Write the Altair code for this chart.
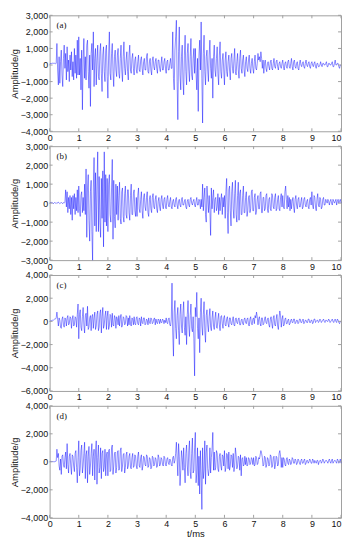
import altair as alt
import pandas as pd

# time axis (ms), sampled every 0.025 ms
t = [round(i * 0.025, 3) for i in range(401)]

# ---- panel (a) amplitudes (g), one row per ms ----
amp_a = [
    50, 80, 100, 90, 110, 100, 120, 100, 80, 100, 1300, -300, -1200, 500, -1100, 200, 900, -600, -1300, 400,
    1200, -200, 700, -900, 1100, -400, 300, -1000, 600, -300, 800, -700, 200, -900, 1000, -500, 600, -800, 1500, -600,
    1700, -600, 400, -1500, 900, -2700, 300, 1600, -800, 500, -900, 1200, 1500, -400, -1400, 600, -2500, 700, 1300, -300,
    2000, -1300, 400, 1000, -1200, 300, 1200, -700, -900, 800, 1300, -500, -1600, 600, 1100, -400, -1000, 900, 1200, -700,
    -2000, 600, 2000, -500, -900, 700, 1300, -400, -1300, 500, 900, -300, -700, 600, 1000, -500, -800, 400, 1200, -300,
    -1000, 500, 1400, -200, -600, 300, 800, -400, -900, 600, 1200, -300, -500, 400, 700, -200, -600, 300, 500, -300,
    -500, 200, 600, -300, -400, 300, 500, -200, -600, 200, 400, -300, -300, 500, 700, -400, -500, 200, 400, -300,
    -600, 300, 500, -100, -300, 200, 400, -200, -500, 300, 300, -200, -400, 100, 500, -300, -300, 200, 400, -200,
    -500, 200, 300, -300, -300, 100, 400, -200, -200, 2000, -800, -1500, 900, 1700, 2700, -1000, -3300, 800, 2300, -600,
    -1500, 500, 1200, -900, -1800, 600, 1800, -400, -1200, 700, 1300, -300, -1000, 500, 1600, -600, -900, 400, 1000, -500,
    1000, -500, -1500, 400, -2800, 600, 1500, -300, 2600, -800, -3500, 700, 1800, -400, -1200, 500, 900, -300, -1000, 600,
    1500, -200, -800, 400, -2000, 500, 1200, -300, -700, 400, 1100, -500, -1200, 600, 1400, -400, -800, 300, 700, -300,
    -1200, 300, 800, -400, -700, 200, 600, -300, -900, 400, 700, -200, -500, 300, 1000, -400, -600, 200, 700, -300,
    -800, 400, 900, -200, -500, 300, 600, -300, -700, 200, 500, -200, -400, 300, 600, -200, -500, 100, 400, -200,
    -500, 200, 600, -200, -300, 100, 700, 300, 500, 200, 800, 400, -200, 300, -500, 100, 300, -200, -400, 100,
    200, -100, -300, 200, 300, -200, -300, 100, 400, -100, -200, 200, 300, -100, -300, 100, 200, -100, -200, 100,
    300, -100, -300, 100, 200, -100, -200, 200, 300, -100, -200, 100, 400, -100, -300, 200, 300, -100, -200, 100,
    200, -200, -300, 100, 300, 0, -100, 100, 200, -100, -200, 100, 300, 0, -100, 100, 200, -100, -200, 100,
    200, 0, -100, 100, 200, -100, -200, 100, 100, -100, -100, 0, 200, 0, -100, 100, 100, 0, 0, 100,
    200, -100, -100, 100, 100, 0, 0, 100, 200, -100, -100, 100, 300, 0, 0, 100, 100, -100, -200, 0,
    0,
]

# ---- panel (b) ----
amp_b = [
    0, 30, 0, 50, 20, -30, 0, 40, 0, -20, 30, 0, 50, 20, -30, 0, 40, 0, -20, 30,
    0, 50, 700, -200, 600, -500, 300, -300, 400, -600, 300, -900, 400, -300, 500, -600, 300, -400, 700, -500,
    900, -300, -700, 400, 600, -500, 300, -400, 1000, -600, 1800, -1800, 800, 1500, -900, -2000, 600, 1200, -1500, -3000,
    800, 2400, -1200, 1600, -1500, 900, 2700, -1500, 1400, -1000, -1800, 1300, -800, 1700, -2300, 2700, -1000, 1500, -1200, 1300,
    -1500, 1000, 1500, -600, -1000, 800, 2300, -1900, 1200, -700, -1300, 1000, -600, 900, -900, 400, 1100, -800, -1100, 600,
    800, -700, -1000, 500, 900, -600, -800, 700, 700, -500, -900, 400, 1000, -600, -600, 500, 700, -400, -700, 300,
    -700, 400, 800, -300, -500, 200, 600, -400, -800, 300, 500, -200, -400, 300, 600, -500, -700, 200, 400, -300,
    -500, 300, 500, -200, -300, 200, 400, -300, -500, 100, 300, -200, -400, 200, 400, -100, -300, 200, 300, -200,
    -300, 200, 400, -100, -200, 100, 300, -200, -300, 100, 200, -100, -200, 200, 300, -100, -300, 100, 200, -100,
    -200, 200, 300, -100, -100, 100, 200, -200, -300, 100, 200, -100, -200, 200, 300, 0, -100, 100, 200, -100,
    -200, 100, 300, -100, -100, 200, 100, -300, 200, -200, 1000, -400, 300, 800, -600, -1000, 900, 200, -500, 400,
    -400, -1700, 800, -300, 300, 700, -500, 200, 300, -400, -200, 500, -600, 300, -400, 200, 500, -600, 300, -200,
    400, -800, 600, 1300, -500, -1600, 700, 900, -400, -1200, 600, 1100, -300, -800, 500, 1200, -600, -1000, 400, 1100,
    -900, 500, 700, -600, -600, 400, 900, -500, -500, 300, 600, -700, -400, 300, 400, -500, -300, 600, 700, -400,
    -400, 300, 500, -600, -400, 200, 400, -300, -300, 500, 600, -500, -500, 300, 300, -400, -300, 400, 500, -300,
    -500, 200, 300, -300, -400, 500, 400, -200, -300, 300, 500, -400, -300, 200, 400, -300, -400, 300, 500, -200,
    400, -200, -300, 600, 900, 200, -300, 400, -200, 300, -400, 200, -300, 100, 300, -200, -500, 200, 400, -100,
    -300, 200, 300, -200, -200, 100, 300, -300, -200, 200, 300, -100, -200, 100, 200, -200, -300, 200, 300, -100,
    600, -100, -300, 400, 300, -200, -400, 200, 500, -100, -200, 300, 200, -300, -200, 200, 300, -100, -100, 200,
    100, 0, 200, 100, -100, 100, 200, 0, -100, 200, 100, 0, 100, 200, -100, 100, 200, 0, 100, 200,
    0,
]

# ---- panel (c) ----
amp_c = [
    0, 20, 50, 80, 100, 100, 150, 200, 200, 300, 800, 200, -400, 300, 100, -500, -600, 200, 400, -300,
    -500, 300, 200, -400, 300, 500, -300, -200, 400, 300, -600, 200, 500, -400, -300, 400, 300, -500, 600, 1500,
    -1500, 600, 1000, -500, -800, 400, 1200, -300, -1000, 500, 700, -400, 1300, -700, -500, 300, 500, -800, 400, 600,
    -600, 300, 800, -700, -400, 600, 900, -800, -500, 700, 1000, -1000, 400, 1200, -600, -300, 500, 900, -700, 400,
    900, -700, -400, 600, 500, -500, 700, -300, -400, 500, 300, -600, 400, 200, -300, 500, -400, 300, 600, -500,
    -300, 400, 300, -300, -200, 500, 400, -400, 300, -300, 500, -200, -400, 300, 200, -300, 400, -200, -300, 300,
    400, -200, -300, 300, 200, -400, 400, -100, -200, 300, 300, -300, -200, 200, 100, -300, 300, -100, -200, 300,
    200, -200, -100, 200, 300, -300, 200, -100, -200, 200, 100, -200, 200, -100, -100, 200, 100, -200, 100, -100,
    300, -100, -200, 200, 300, -300, -400, 200, 3300, -1000, -3000, 800, 1800, -600, -1500, 500, 1200, -800, -2000, 600,
    1500, -400, -1000, 700, 1700, -500, -1200, 400, -2000, 600, 1800, -300, -1300, 500, 1500, -600, -900, 400, -1500, -4700,
    1200, 400, 2500, -600, -1500, 300, -2700, 800, 2000, -400, -1200, 600, 1700, -800, -1800, 500, 1000, -300, -900, 400,
    1100, -500, -800, 300, 900, -400, -700, 300, 800, -500, -600, 200, 700, -300, -800, 400, 500, -200, -600, 300,
    500, -300, -400, 200, 400, -200, -500, 300, 300, -200, -300, 100, 400, -300, -400, 200, 300, -100, -200, 200,
    300, -300, -300, 100, 200, -200, -300, 200, 300, -100, -200, 200, 300, -300, -400, 200, 400, -200, -300, 200,
    300, -200, 500, 300, 800, 400, -300, 200, 400, -200, -400, 300, 300, -300, -200, 200, 400, -100, -200, 200,
    300, -300, -500, 200, 400, -200, -600, 300, 500, -300, -400, 200, 600, -400, -700, 300, 900, 500, -500, 200,
    500, -400, -300, 200, 300, -200, -200, 100, 200, -300, -200, 100, 200, -100, -100, 200, 200, -200, -100, 100,
    100, -200, -100, 200, 200, -100, -100, 100, 200, -200, -100, 100, 100, -100, -100, 200, 200, -100, -100, 100,
    100, -200, -100, 200, 200, -100, 0, 100, 100, -100, 0, 200, 100, -100, 0, 100, 200, 0, -100, 100,
    100, 0, 0, 200, 100, -100, 0, 100, 200, 0, -100, 100, 200, 0, -100, 200, 100, -100, -200, 0,
    0,
]

# ---- panel (d) ----
amp_d = [
    0, 30, 0, 40, 20, 0, 40, 0, 30, 50, 900, 300, 600, -300, -600, 200, -900, 400, 500, -200,
    -400, 300, 700, -500, 1300, -200, -800, 400, 600, -300, -900, 500, 400, -300, -700, 600, 800, -400, -1500, 300,
    1500, -1000, -500, 800, 1200, -800, -300, 600, 1400, -1200, 500, 800, -1500, 400, 1100, -900, -300, 600, 1300, -1000,
    400, 900, -1300, 700, 1500, -1600, 300, 1200, -800, -400, 1000, -1200, 600, 800, -700, -400, 900, -1000, 500, 700,
    -1000, 800, 900, -700, -600, 1000, 1200, -900, -300, 600, 700, -800, -400, 700, 800, -600, -500, 800, 1000, -700,
    -300, 500, 600, -800, -400, 500, 700, -500, -300, 400, 600, -400, -500, 300, 600, -400, -300, 500, 400, -300,
    -500, 400, 700, -300, -400, 300, 500, -600, -300, 400, 300, -200, -300, 500, 400, -400, -300, 300, 200, -500,
    -400, 400, 300, -300, -200, 300, 200, -400, -300, 500, 300, -300, -200, 300, 200, -200, -300, 400, 300, -200,
    -300, 200, 300, -100, -200, 200, 100, -200, -300, 300, 400, -100, 100, 600, 1400, 200, -1000, 1300, 400, -1700,
    -600, 800, 300, -600, 1000, -400, -1500, 600, 1200, -300, -1000, 800, 1500, -700, -1200, 600, 1700, -800, -600, 1000,
    2100, -1500, -800, 1000, -1700, 400, -2300, 800, -1000, -3400, 1000, -1200, -600, 1500, -1600, 700, 1200, -500, -1000, -500,
    1000, -800, 300, 900, 2100, -600, 700, -600, -400, 800, 600, -500, -700, 400, 600, -300, -600, 500, 400, -300,
    800, -700, -400, 600, 500, -500, 700, -600, -300, 500, 400, -400, 600, -700, -300, 1000, 500, -500, -300, 400,
    300, -600, 500, -1000, 200, 300, -300, -200, 400, -200, 300, -300, -200, 300, 200, -200, -100, 300, 200, -200,
    300, -300, -200, 400, 300, -200, -100, 300, 200, 500, 800, 600, 300, -300, -200, 400, 300, -400, -200, 300,
    200, -300, -200, 500, 400, -400, -300, 300, 400, -500, -200, 400, 300, -300, -200, 600, 800, 400, -400, 300,
    -400, 300, 200, -200, -300, 200, 300, -100, -200, 200, 100, -200, -100, 300, 200, -100, -100, 200, 100, -200,
    -100, 200, 100, -100, -200, 100, 200, -100, -100, 100, 200, -200, -100, 100, 100, -100, 0, 200, 100, -100,
    -100, 200, 100, -100, 100, 0, -100, 100, 100, -200, 0, 100, 100, -100, 0, 200, 100, -100, 0, 100,
    100, 0, -100, 100, 200, 0, -100, 100, 200, -100, 0, 100, 100, 0, -100, 200, 100, -100, 0, 200,
    -100,
]

panel_labels = ["(a)", "(b)", "(c)", "(d)"]
y_domains = [[-4000, 3000], [-3000, 3000], [-6000, 4000], [-4000, 4000]]
y_ticks = [
    [-4000, -3000, -2000, -1000, 0, 1000, 2000, 3000],
    [-3000, -2000, -1000, 0, 1000, 2000, 3000],
    [-6000, -4000, -2000, 0, 2000, 4000],
    [-4000, -2000, 0, 2000, 4000],
]
x_ticks = [0, 1, 2, 3, 4, 5, 6, 7, 8, 9, 10]
panel_heights = [117, 115, 117, 113]
W = 294
GRAY = "#a0a0a0"
LAST_ALIGN = {"condition": {"test": "datum.value == 10", "value": "right"}, "value": "center"}


def panel(amps, label, ydom, yt, h, last):
    df = pd.DataFrame({"t": t, "amp": amps})
    if last:
        xaxis = alt.Axis(values=x_ticks, labelFlush=False, labelAlign=LAST_ALIGN, title="t/ms")
    else:
        xaxis = alt.Axis(values=x_ticks, labelFlush=False, labelAlign=LAST_ALIGN, title=None)
    X = alt.X("t:Q", scale=alt.Scale(domain=[0, 10], nice=False, zero=False), axis=xaxis)
    Y = alt.Y("amp:Q", scale=alt.Scale(domain=ydom, nice=False),
              axis=alt.Axis(values=yt, format=",.0f", title="Amplitude/g", labelFlush=False))
    line = alt.Chart(df).mark_line(color="#0000ff", strokeWidth=0.5, opacity=0.9).encode(x=X, y=Y)

    xt = pd.DataFrame({"t": x_ticks})
    yt_df = pd.DataFrame({"amp": yt})
    tb = alt.Chart(xt).mark_rule(color=GRAY, strokeWidth=1).encode(x=X, y=alt.value(h), y2=alt.value(h - 3))
    tt = alt.Chart(xt).mark_rule(color=GRAY, strokeWidth=1).encode(x=X, y=alt.value(0), y2=alt.value(3))
    tl = alt.Chart(yt_df).mark_rule(color=GRAY, strokeWidth=1).encode(y=Y, x=alt.value(0), x2=alt.value(3))
    tr = alt.Chart(yt_df).mark_rule(color=GRAY, strokeWidth=1).encode(y=Y, x=alt.value(W), x2=alt.value(W - 3))
    txt = alt.Chart(pd.DataFrame({"lab": [label]})).mark_text(
        font="Liberation Serif", fontSize=9, align="left", baseline="middle", color="#111"
    ).encode(x=alt.value(7), y=alt.value(10), text="lab:N")
    return alt.layer(line, tb, tt, tl, tr, txt).properties(width=W, height=h)


amps_all = [amp_a, amp_b, amp_c, amp_d]
panels = [
    panel(amps_all[i], panel_labels[i], y_domains[i], y_ticks[i], panel_heights[i], i == 3)
    for i in range(4)
]

chart = alt.vconcat(*panels, spacing=15, bounds="flush").properties(
    padding={"left": 0, "top": 0, "right": 0, "bottom": 0},
    autosize=alt.AutoSizeParams(type="pad"),
).configure_view(
    stroke=GRAY, strokeWidth=1
).configure_axis(
    ticks=False, domain=False, grid=False,
    labelFont="Liberation Sans", labelFontSize=9, labelColor="#111", labelPadding=2,
    titleFont="Liberation Sans", titleFontSize=9.5, titleFontWeight="normal", titleColor="#111",
    titlePadding=1,
).configure_axisX(titlePadding=0)

chart.save("out.html", embed_options={"renderer": "svg", "actions": False})
